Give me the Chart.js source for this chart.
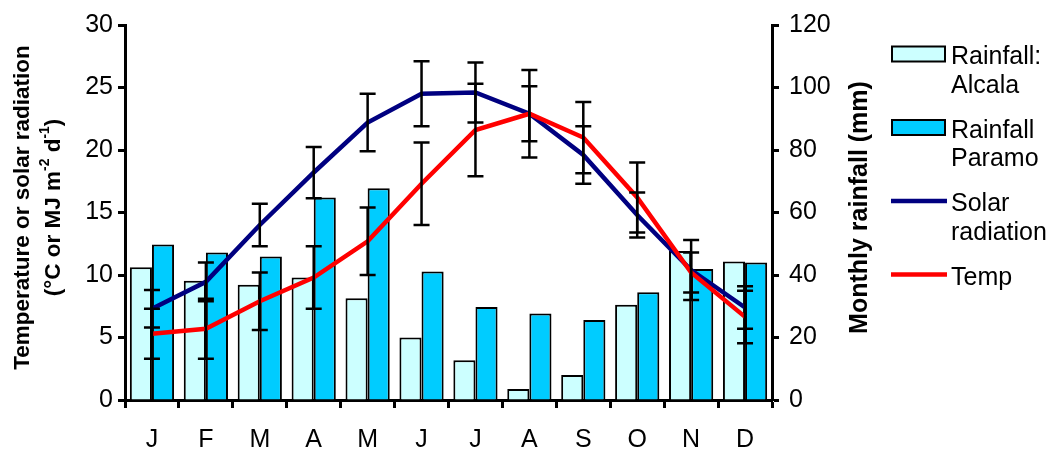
<!DOCTYPE html>
<html>
<head>
<meta charset="utf-8">
<script src="https://cdn.jsdelivr.net/npm/chart.js"></script>
<style>
  body { margin: 0; background: #fff; }
  #wrap { width: 1054px; height: 452px; }
</style>
</head>
<body>
<div id="wrap"><canvas id="myChart" width="1054" height="452"></canvas></div>
<script>
// Datos
const months = ["J", "F", "M", "A", "M", "J", "J", "A", "S", "O", "N", "D"];
const rainAlcala = [42.5, 38.2, 36.9, 39.2, 32.6, 20.0, 12.7, 3.5, 8.0, 30.5, 47.7, 44.3];
const rainParamo = [49.8, 47.2, 45.9, 64.8, 67.8, 41.1, 29.8, 27.7, 25.6, 34.5, 41.9, 44.0];
const solarRad = [7.3, 9.45, 14.0, 18.2, 22.2, 24.5, 24.6, 22.9, 19.6, 14.8, 10.4, 7.4];
const solarErr = [1.5, 1.55, 1.7, 2.05, 2.3, 2.6, 2.4, 2.2, 2.3, 1.8, 2.4, 1.7];
const temp = [5.3, 5.7, 7.9, 9.8, 12.7, 17.3, 21.6, 22.9, 21.0, 16.2, 10.2, 6.65];
const tempErr = [2.0, 2.4, 2.3, 2.5, 2.7, 3.3, 3.7, 3.5, 2.85, 2.8, 1.6, 2.1];
const leftTicks = [0, 5, 10, 15, 20, 25, 30];
const rightTicks = [0, 20, 40, 60, 80, 100, 120];
const legendText = [["Rainfall:", "Alcala"], ["Rainfall", "Paramo"], ["Solar", "radiation"], ["Temp"]];

const FONT = "'Liberation Sans', Arial, sans-serif";
Chart.defaults.font.family = FONT;
Chart.defaults.color = "#000";

// barras de error sobre las lineas
const errorBars = {
  id: "errorBars",
  afterDatasetsDraw(chart) {
    const ctx = chart.ctx;
    const yScale = chart.scales.y;
    chart.data.datasets.forEach((ds, i) => {
      if (!ds.errors) return;
      const meta = chart.getDatasetMeta(i);
      ctx.save();
      ctx.strokeStyle = "#000";
      ctx.lineWidth = 2.5;
      meta.data.forEach((pt, j) => {
        const top = yScale.getPixelForValue(ds.data[j] + ds.errors[j]);
        const bot = yScale.getPixelForValue(ds.data[j] - ds.errors[j]);
        ctx.beginPath();
        ctx.moveTo(pt.x, top); ctx.lineTo(pt.x, bot);
        ctx.moveTo(pt.x - 8, top); ctx.lineTo(pt.x + 8, top);
        ctx.moveTo(pt.x - 8, bot); ctx.lineTo(pt.x + 8, bot);
        ctx.stroke();
      });
      ctx.restore();
    });
  }
};

// titulos de ejes con superindices
function drawPieces(ctx, pieces, y, size) {
  let total = 0;
  pieces.forEach(p => {
    ctx.font = "bold " + (p.sup ? size * 0.62 : size) + "px " + FONT;
    p.w = ctx.measureText(p.t).width;
    total += p.w;
  });
  let x = -total / 2;
  pieces.forEach(p => {
    ctx.font = "bold " + (p.sup ? size * 0.62 : size) + "px " + FONT;
    ctx.fillText(p.t, x, p.sup ? y - size * 0.38 : y);
    x += p.w;
  });
}

const axisTitles = {
  id: "axisTitles",
  afterDraw(chart) {
    const ctx = chart.ctx;
    const area = chart.chartArea;
    const cy = (area.top + area.bottom) / 2 - 5;
    ctx.save();
    ctx.fillStyle = "#000";
    ctx.textBaseline = "middle";
    ctx.translate(0, cy);
    ctx.rotate(-Math.PI / 2);
    drawPieces(ctx, [{ t: "Temperature or solar radiation" }], 23, 22.5);
    drawPieces(ctx, [{ t: "(°C or MJ m" }, { t: "-2", sup: true }, { t: " d" }, { t: "-1", sup: true }, { t: ")" }], 54, 22.5);
    ctx.restore();

    ctx.save();
    ctx.fillStyle = "#000";
    ctx.textBaseline = "middle";
    ctx.translate(860, cy);
    ctx.rotate(-Math.PI / 2);
    drawPieces(ctx, [{ t: "Monthly rainfall (mm)" }], 0, 25);
    ctx.restore();
  }
};

// leyenda a la derecha
const sideLegend = {
  id: "sideLegend",
  afterDraw(chart) {
    const ctx = chart.ctx;
    const order = [2, 3, 1, 0];
    ctx.save();
    order.forEach((dsIndex, k) => {
      const ds = chart.data.datasets[dsIndex];
      const cy = 54 + 73.5 * k;
      if (ds.type === "line") {
        ctx.strokeStyle = ds.borderColor;
        ctx.lineWidth = 4.5;
        ctx.beginPath();
        ctx.moveTo(891, cy);
        ctx.lineTo(947, cy);
        ctx.stroke();
      } else {
        ctx.fillStyle = ds.backgroundColor;
        ctx.fillRect(892, cy - 7.5, 53, 15);
        ctx.strokeStyle = "#000";
        ctx.lineWidth = 2;
        ctx.strokeRect(892, cy - 7.5, 53, 15);
      }
      ctx.fillStyle = "#000";
      ctx.font = "25px " + FONT;
      ctx.textBaseline = "alphabetic";
      legendText[k].forEach((line, n) => {
        ctx.fillText(line, 951, cy + 10 + n * 28.5);
      });
    });
    ctx.restore();
  }
};

function axisStyle(extra) {
  return Object.assign({
    grid: { drawOnChartArea: false, tickLength: 7, tickWidth: 3, tickColor: "#000" },
    border: { display: true, color: "#000", width: 3 }
  }, extra);
}

const myChart = document.getElementById("myChart");
new Chart(myChart, {
  type: "bar",
  data: {
    labels: months,
    datasets: [
      { type: "line", label: "Temp", data: temp, errors: tempErr, borderColor: "#FF0000",
        borderWidth: 4.5, pointRadius: 0, tension: 0, yAxisID: "y", order: 0 },
      { type: "line", label: "Solar radiation", data: solarRad, errors: solarErr, borderColor: "#000080",
        borderWidth: 4.5, pointRadius: 0, tension: 0, yAxisID: "y", order: 1 },
      { label: "Rainfall: Alcala", data: rainAlcala, backgroundColor: "#CCFFFF", borderColor: "#000",
        borderWidth: 2, yAxisID: "y1", order: 2, categoryPercentage: 0.82, barPercentage: 1 },
      { label: "Rainfall Paramo", data: rainParamo, backgroundColor: "#00CCFF", borderColor: "#000",
        borderWidth: 2, yAxisID: "y1", order: 3, categoryPercentage: 0.82, barPercentage: 1 }
    ]
  },
  options: {
    responsive: false,
    animation: false,
    layout: { padding: { top: 21, right: 182, left: 0, bottom: 0 } },
    plugins: { legend: { display: false }, tooltip: { enabled: false } },
    scales: {
      x: axisStyle({
        grid: { drawOnChartArea: false, tickLength: 8, tickWidth: 3, tickColor: "#000", offset: true },
        ticks: { font: { size: 25 }, padding: 17 },
        afterFit(s) { s.height = 52; }
      }),
      y: axisStyle({
        position: "left", min: 0, max: 30,
        afterBuildTicks(s) { s.ticks = leftTicks.map(v => ({ value: v })); },
        ticks: { font: { size: 25 }, padding: 5 },
        afterFit(s) { s.width = 125; }
      }),
      y1: axisStyle({
        position: "right", min: 0, max: 120,
        afterBuildTicks(s) { s.ticks = rightTicks.map(v => ({ value: v })); },
        ticks: { font: { size: 25 }, padding: 10 },
        afterFit(s) { s.width = 100; }
      })
    }
  },
  plugins: [errorBars, axisTitles, sideLegend]
});
</script>
</body>
</html>
